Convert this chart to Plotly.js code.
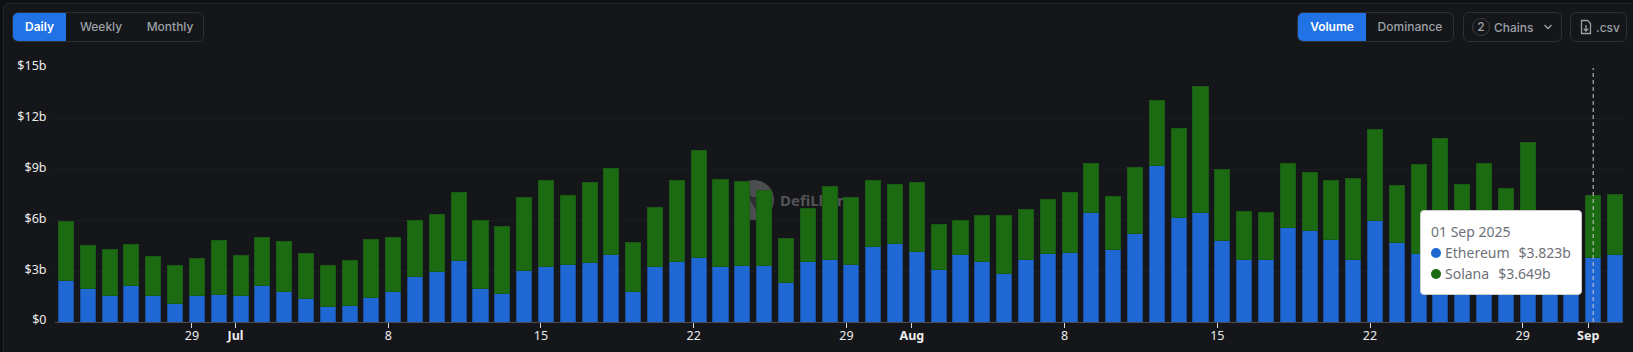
<!DOCTYPE html>
<html><head><meta charset="utf-8">
<script src="https://cdn.plot.ly/plotly-3.0.1.min.js"></script>
<style>
html,body{margin:0;padding:0;background:#0f1012;width:1633px;height:352px;overflow:hidden}
*{box-sizing:border-box}
#frame{position:absolute;left:3px;top:3px;width:1640px;height:360px;background:#141619;border:1px solid #24262a;border-radius:6px}
#chart{position:absolute;left:0;top:0;width:1633px;height:352px}
.group,.btn{position:absolute;top:12px;height:30px;border:1px solid #2c2f33;border-radius:6px;font:500 12px Inter,sans-serif;color:#9ba0a6;display:flex;align-items:center;white-space:nowrap}
.group span{position:absolute;top:0;height:28px;line-height:28px;text-align:center}
.on{background:#2172e5;color:#fff;font-weight:600}
#mark{position:absolute;left:734px;top:180px;width:40px;height:40px}
#markt{position:absolute;left:780px;top:190px;font:700 15px "Noto Sans",sans-serif;color:#525356}
#tip{position:absolute;left:1420px;top:210px;width:162px;height:85px;background:#fff;border:1px solid #ccc;border-radius:4px;font:14px/21px "Noto Sans",sans-serif;color:#6e7079;padding:10px 10px;white-space:nowrap}
#tip i{display:inline-block;width:10px;height:10px;border-radius:50%;margin-right:4px}
#tip b{font-weight:400;margin-left:9px}
</style></head><body>
<div id="frame"></div>
<svg id="mark" viewBox="0 0 40 40"><circle cx="20" cy="20" r="20" fill="#4c4d4f"/><path d="M14 12 L18 17 H24 L29 11 L27 20 L22 30 L17 22 Z" fill="#2e2f31"/></svg><div id="markt">DefiLlama</div>
<div id="chart"></div>
<div class="group" style="left:12px;width:192px"><span class="on" style="left:0;width:53px;border-radius:5px 0 0 5px">Daily</span><span style="left:53px;width:70px">Weekly</span><span style="left:123px;width:68px">Monthly</span></div>
<div class="group" style="left:1297px;width:157px"><span class="on" style="left:0;width:68px;border-radius:5px 0 0 5px">Volume</span><span style="left:68px;width:88px">Dominance</span></div>
<div class="btn" style="left:1463px;width:99px"><span style="position:absolute;left:8px;top:5px;width:18px;height:18px;border:1px solid #3a3d41;border-radius:50%;text-align:center;line-height:16px">2</span><span style="position:absolute;left:30px">Chains</span><svg style="position:absolute;left:79px;top:10px" width="10" height="8"><path d="M1.5 2 L5 5.5 L8.5 2" stroke="#9ba0a6" stroke-width="1.4" fill="none"/></svg></div>
<div class="btn" style="left:1570px;width:57px"><svg style="position:absolute;left:9px;top:6px" width="12" height="16"><path d="M1.5 1.5 H7.5 L10.5 4.5 V14.5 H1.5 Z M6 6 V12 M3.8 9.8 L6 12 L8.2 9.8" stroke="#9ba0a6" stroke-width="1.3" fill="none"/></svg><span style="position:absolute;left:25px">.csv</span></div>
<div id="tip">01 Sep 2025<br><i style="background:#1f67d2"></i>Ethereum<b>$3.823b</b><br><i style="background:#1c6b12"></i>Solana<b>$3.649b</b></div>
<script>
const firstDay = '2025-06-23';
const ethereum = [2.44,1.95,1.56,2.17,1.56,1.12,1.56,1.60,1.56,2.17,1.79,1.38,0.93,0.97,1.44,1.83,2.68,2.98,3.61,1.95,1.71,3.04,3.25,
 3.37,3.49,3.96,1.79,3.27,3.57,3.80,3.27,3.33,3.31,2.33,3.57,3.69,3.39,4.44,4.63,4.16,3.11,3.96,3.57,2.84,3.69,4.02,4.10,
 6.45,4.30,5.22,9.26,6.17,6.47,4.81,3.71,3.67,5.58,5.42,4.87,3.69,5.97,4.69,4.04,4.00,3.50,3.90,3.40,3.90,3.20,3.30,3.823,3.96];
const solana = [3.47,2.54,2.70,2.38,2.32,2.23,2.17,3.19,2.38,2.80,2.94,2.64,2.42,2.68,3.45,3.16,3.33,3.35,4.02,4.04,3.95,4.31,5.09,
 4.08,4.73,5.13,2.88,3.47,4.79,6.31,5.17,4.99,4.44,2.58,3.13,4.33,3.94,3.92,3.47,4.06,2.65,2.03,2.70,3.45,2.97,3.19,3.53,
 2.89,3.09,3.91,3.85,5.28,7.41,4.22,2.83,2.78,3.80,3.39,3.47,4.77,5.40,3.35,5.24,6.84,4.62,5.48,4.48,6.72,2.90,2.90,3.649,3.55];
const tickDates = ['2025-06-29','2025-07-01','2025-07-08','2025-07-15','2025-07-22','2025-07-29','2025-08-01','2025-08-08','2025-08-15','2025-08-22','2025-08-29','2025-09-01'];
const tickLabels = ['29','<b>Jul</b>','8','15','22','29','<b>Aug</b>','8','15','22','29','<b>Sep</b>'];
const yTicks = [0,3,6,9,12,15];
const yLabels = ['$0','$3b','$6b','$9b','$12b','$15b'];
const hoverDate = '2025-09-01 05:30';
const rangeX = ['2025-06-22 17:24','2025-09-02 14:18'];

const dates = ethereum.map((_, i) => {
  const d = new Date(Date.parse(firstDay + 'T05:30:00Z') + i * 864e5);
  return d.toISOString().slice(0,16).replace('T',' ');
});
const mk = (name,y,color,line) => ({type:'bar',name,x:dates,y,marker:{color,line:{color:line,width:1}},hoverinfo:'skip'});
Plotly.newPlot('chart',[
  mk('Ethereum',ethereum,'#1f67d2','#1b4f9c'),
  mk('Solana',solana,'#1c6b12','#1a5a14')
],{
  width:1633,height:352,barmode:'stack',bargap:0.31,showlegend:false,
  paper_bgcolor:'rgba(0,0,0,0)',plot_bgcolor:'rgba(0,0,0,0)',
  margin:{l:55,r:10,t:68,b:30},
  font:{family:'"Noto Sans",sans-serif',size:12.5,color:'#ececec'},
  xaxis:{type:'date',range:rangeX,tickmode:'array',tickvals:tickDates,ticktext:tickLabels,ticks:'outside',ticklen:5,tickcolor:'#d8d8d8',tickwidth:1,showgrid:false,showline:true,linecolor:'#4a4c50',linewidth:1,zeroline:false,ticklabelstandoff:-3,tickfont:{size:12.5,color:'#ececec'}},
  yaxis:{range:[0,15],tickmode:'array',tickvals:yTicks,ticktext:yLabels,showgrid:true,gridcolor:'#1b1d20',gridwidth:1,zeroline:false,showline:false,ticks:'outside',ticklen:5,tickcolor:'rgba(0,0,0,0)',ticklabelshift:-2,tickfont:{size:12.5,color:'#ececec'}},
  shapes:[{type:'line',xref:'x',yref:'paper',x0:hoverDate,x1:hoverDate,y0:0,y1:1,line:{color:'#cfcfcf',width:1,dash:'4px,3px'}}]
},{displayModeBar:false,staticPlot:true});
</script>
</body></html>
